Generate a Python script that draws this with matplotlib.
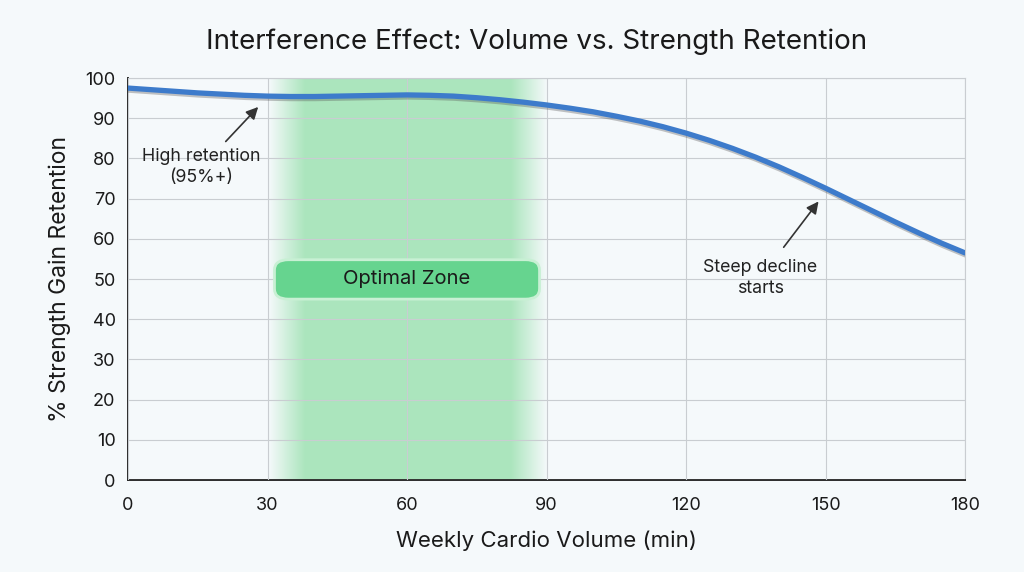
import matplotlib.pyplot as plt
import matplotlib.patheffects as pe
from matplotlib.patches import FancyBboxPatch
import numpy as np

plt.rcParams['font.family'] = ['Inter', 'DejaVu Sans']

# weekly cardio minutes vs % strength gain retention
cardio_min = [0, 5, 10, 15, 20, 25, 30, 35, 40, 45, 50, 55, 60, 65, 70, 75, 80, 85, 90,
              95, 100, 105, 110, 115, 120, 125, 130, 135, 140, 145, 150, 155, 160, 165,
              170, 175, 180]
retention = [97.5, 97.1, 96.7, 96.3, 96.0, 95.7, 95.5, 95.4, 95.4, 95.5, 95.6, 95.7, 95.8,
             95.7, 95.5, 95.1, 94.6, 94.0, 93.3, 92.5, 91.6, 90.5, 89.3, 87.9, 86.3,
             84.5, 82.5, 80.3, 77.9, 75.3, 72.6, 69.8, 67.0, 64.2, 61.5, 58.9, 56.5]

x_ticks = [0, 30, 60, 90, 120, 150, 180]
y_ticks = list(range(0, 101, 10))
zone = (30, 90)

bg = '#f5f9fb'
fig = plt.figure(figsize=(10.24, 5.72), dpi=100, facecolor=bg)
ax = fig.add_axes([0.125, 0.1608, 0.8174, 0.7028], facecolor=bg)

# soft green optimal zone, fading at the edges
xs = np.linspace(0, 1, 200)
fade = np.clip(np.minimum(xs, 1 - xs) / 0.13, 0, 1)
rgba = np.zeros((1, 200, 4))
rgba[..., 0], rgba[..., 1], rgba[..., 2] = 0.62, 0.89, 0.70
rgba[..., 3] = 0.85 * fade
ax.imshow(rgba, extent=[zone[0], zone[1], 0, 100], aspect='auto', zorder=1, interpolation='bilinear')

ax.plot(cardio_min, retention, color='#3d7bcb', lw=3.8, zorder=4, solid_capstyle='round',
        path_effects=[pe.SimpleLineShadow(offset=(0.5, -1.5), shadow_color='#555555', alpha=0.35),
                      pe.Normal()])

box = FancyBboxPatch((31.5, 45), 57, 9.8, boxstyle='round,pad=0,rounding_size=3',
                     mutation_aspect=0.86, fc='#66d48f', ec='#c8f0d4', lw=2, zorder=3)
ax.add_patch(box)
ax.text(60, 49.9, 'Optimal Zone', ha='center', va='center', fontsize=14.5, color='#1a1a1a', zorder=5)

ax.annotate('High retention\n(95%+)', xy=(28, 92.8), xytext=(15.8, 77.8), ha='center', va='center',
            fontsize=12.8, color='#222222', zorder=5, linespacing=1.3,
            arrowprops=dict(arrowstyle='-|>', color='#333333', lw=1.2, mutation_scale=18,
                            shrinkA=4, shrinkB=0))
ax.annotate('Steep decline\nstarts', xy=(148.5, 69.3), xytext=(136, 50.3), ha='center', va='center',
            fontsize=12.8, color='#222222', zorder=5, linespacing=1.3,
            arrowprops=dict(arrowstyle='-|>', color='#333333', lw=1.2, mutation_scale=18,
                            shrinkA=8, shrinkB=0))

ax.set_xlim(0, 180)
ax.set_ylim(0, 100)
ax.set_xticks(x_ticks)
ax.set_yticks(y_ticks)
ax.grid(True, color='#c9cdd1', lw=0.8, zorder=2)
ax.set_axisbelow(False)
for s in ['top', 'right']:
    ax.spines[s].set_color('#c9cdd1')
for s in ['left', 'bottom']:
    ax.spines[s].set_color('#2b2b2b')
    ax.spines[s].set_linewidth(1.4)
ax.tick_params(length=0, labelsize=13, colors='#1a1a1a')
ax.tick_params(axis='x', pad=12)
ax.tick_params(axis='y', pad=9)

ax.set_xlabel('Weekly Cardio Volume (min)', fontsize=16, color='#1a1a1a', labelpad=12)
ax.set_ylabel('% Strength Gain Retention', fontsize=16.5, color='#1a1a1a', labelpad=10)
fig.suptitle('Interference Effect: Volume vs. Strength Retention', fontsize=20, color='#1a1a1a',
             x=0.524, y=0.95)

fig.savefig('out.png', dpi=100, facecolor=bg)
